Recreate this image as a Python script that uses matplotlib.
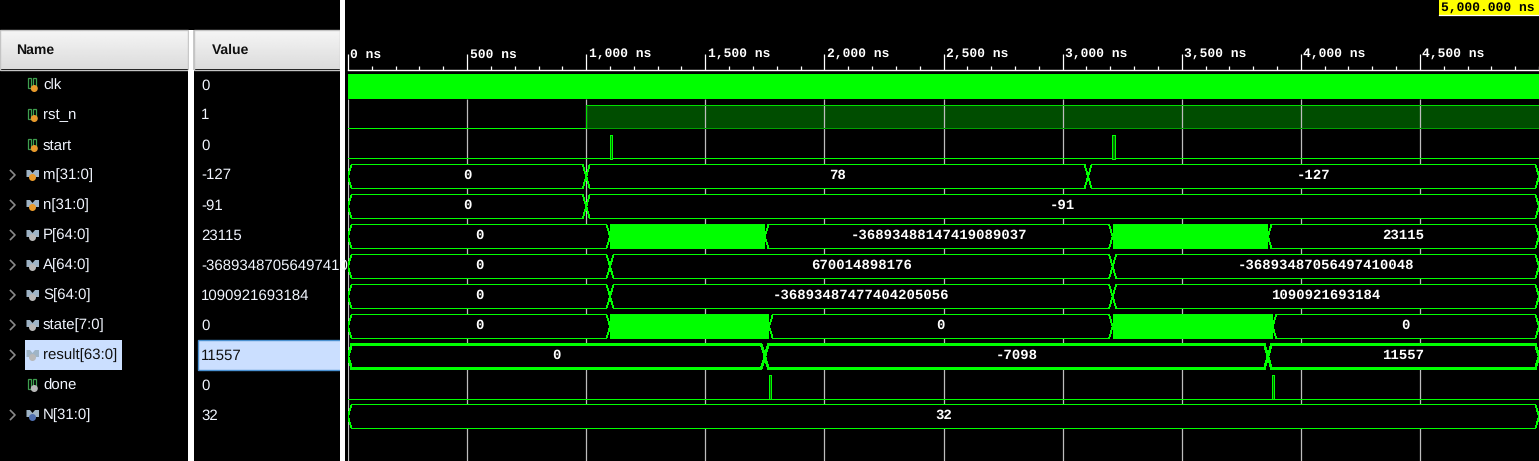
import numpy as np
import matplotlib
matplotlib.use("Agg")
import matplotlib.pyplot as plt
from matplotlib.patches import Rectangle, Circle, Polygon
from matplotlib.transforms import ScaledTranslation

plt.rcParams["text.hinting"] = "no_hinting"
plt.rcParams["text.hinting_factor"] = 1

# ---------- data ----------
names = ["clk", "rst_n", "start", "m[31:0]", "n[31:0]", "P[64:0]", "A[64:0]",
         "S[64:0]", "state[7:0]", "result[63:0]", "done", "N[31:0]"]
values = ["0", "1", "0", "-127", "-91", "23115", "-36893487056497410048",
          "1090921693184", "0", "11557", "0", "32"]
tick_ns = [0, 500, 1000, 1500, 2000, 2500, 3000, 3500, 4000, 4500]
tick_labels = ["0 ns", "500 ns", "1,000 ns", "1,500 ns", "2,000 ns", "2,500 ns",
               "3,000 ns", "3,500 ns", "4,000 ns", "4,500 ns"]
cursor_label = "5,000.000 ns"
end_ns = 5000

rst_rise = 1000
start_pulses = [1098, 3208]
done_pulses = [1766, 3878]
pulse_width = 10

m_edges = [0, 1000, 3107, 5000]
m_labels = ["0", "78", "-127"]
n_edges = [0, 1000, 5000]
n_labels = ["0", "-91"]
P_segments = [(0, 1100, "0"), (1750, 3210, "-36893488147419089037"), (3862, 5000, "23115")]
P_solid = [(1100, 1750), (3210, 3862)]
A_edges = [0, 1100, 3210, 5000]
A_labels = ["0", "670014898176", "-36893487056497410048"]
S_edges = [0, 1100, 3210, 5000]
S_labels = ["0", "-36893487477404205056", "1090921693184"]
state_segments = [(0, 1100, "0"), (1768, 3210, "0"), (3882, 5000, "0")]
state_solid = [(1100, 1768), (3210, 3882)]
result_edges = [0, 1750, 3862, 5000]
result_labels = ["0", "-7098", "11557"]
N_edges = [0, 5000]
N_labels = ["32"]

# ---------- style ----------
W, H = 1539, 461
GREEN = "#00ff00"
MONO = "Liberation Mono"
SANS = "Liberation Sans"
TXT = 10.6
LW = 0.5
fig = plt.figure(figsize=(W / 100, H / 100), dpi=100, facecolor="black")

# chrome axes in pixel coordinates
ui = fig.add_axes([0, 0, 1, 1])
ui.set_facecolor("black")
ui.axis("off")
grad = np.linspace(0.96, 0.86, 40).reshape(-1, 1)
for x0, x1 in [(0, 188), (194, 340)]:
    ui.imshow(grad, extent=(x0, x1, 69, 31), cmap="gray", vmin=0, vmax=1,
              aspect="auto", zorder=1)
    ui.add_patch(Rectangle((x0, 30), x1 - x0, 40, fill=False, ec="#c4c4c4", lw=1, zorder=2))
ui.set_xlim(0, W)
ui.set_ylim(H, 0)
ui.add_patch(Rectangle((188, 30), 6, H - 30, fc="white", ec="none", zorder=3))
ui.add_patch(Rectangle((188, 30), 1, 40, fc="#c8c8c8", ec="none", zorder=3))
ui.add_patch(Rectangle((193, 30), 1, 40, fc="#c8c8c8", ec="none", zorder=3))
ui.add_patch(Rectangle((340, 0), 5, H, fc="white", ec="none", zorder=3))
ui.text(16, 50.5, "Name", family=SANS, weight="bold", size=10.4, color="#101010", va="center", zorder=4)
ui.text(212, 50.5, "Value", family=SANS, weight="bold", size=10.4, color="#101010", va="center", zorder=4)


def scalar_icon(cy, col):
    ui.add_patch(Rectangle((28, cy - 6.5), 3, 10, fill=False, ec="#3f9f4f", lw=0.9, zorder=4))
    ui.add_patch(Rectangle((33, cy - 6.5), 3, 10, fill=False, ec="#3f9f4f", lw=0.9, zorder=4))
    ui.add_patch(Circle((34.3, cy + 3.5), 3.5, fc=col, ec="none", zorder=5))


def bus_icon(cy, col):
    ui.add_patch(Polygon([(26.5, cy - 5), (30, cy - 5), (32.5, cy - 2), (35, cy - 5),
                          (39, cy - 5), (39, cy + 2), (26.5, cy + 2)],
                         fc="#9fb4c6", ec="none", zorder=4))
    ui.add_patch(Circle((32.5, cy + 2.5), 3.5, fc=col, ec="none", zorder=5))


icon_cols = ["#e89a2c"] * 5 + ["#b8b8b8"] * 6 + ["#4f6fb0"]
selected = "result[63:0]"
for i, (nm, val) in enumerate(zip(names, values)):
    cy = 85 + 30 * i
    sel = nm == selected
    if sel:
        ui.add_patch(Rectangle((25, cy - 15), 97, 30, fc="#cbdfff", ec="none", zorder=2))
        ui.add_patch(Rectangle((197.5, cy - 15), 143, 30, fc="#cbdfff", ec="#4a90d0", lw=1, zorder=2))
    col = "#101010" if sel else "#f2f6ff"
    ui.text(43, cy + 0.5, nm, family=SANS, size=TXT, color=col, va="center", zorder=4)
    t = ui.text(201, cy + 0.5, val, family=SANS, size=TXT, color=col, va="center", zorder=4)
    t.set_clip_path(Rectangle((195, cy - 15), 145, 30, transform=ui.transData))
    if "[" in nm:
        bus_icon(cy, icon_cols[i])
        ui.plot([10.5, 15, 10.5], [cy - 4.5, cy, cy + 4.5], color="#8a8a8a", lw=1.2, zorder=4)
    else:
        scalar_icon(cy, icon_cols[i])

# waveform axes: x in ns
ax = fig.add_axes([348 / W, 0, (W - 348) / W, 1])
ax.set_facecolor("none")
ax.set_xlim(0, end_ns)
ax.set_ylim(H, 0)
ax.yaxis.set_visible(False)
for s in ["left", "right", "bottom"]:
    ax.spines[s].set_visible(False)
ax.spines["top"].set_position(("data", 70))
ax.spines["top"].set_color("white")
ax.spines["top"].set_linewidth(1.0)
ax.xaxis.set_ticks_position("top")
ax.set_xticks(tick_ns)
ax.set_xticklabels(tick_labels)
ax.set_xticks(np.arange(0, end_ns + 1, 100), minor=True)
ax.tick_params(axis="x", which="major", direction="out", length=11.5, width=0.9, color="white",
               pad=-9, labelsize=9.6, labelcolor="white")
ax.tick_params(axis="x", which="minor", direction="out", length=2.8, width=0.9, color="white")
off = ScaledTranslation(2.5 / 100, 6 / 100, fig.dpi_scale_trans)
for lab in ax.get_xticklabels():
    lab.set_family(MONO)
    lab.set_weight("bold")
    lab.set_ha("left")
    lab.set_transform(lab.get_transform() + off)

ax.vlines(tick_ns, 99, H, color="#bdbdbd", lw=0.9, zorder=1)

GRID_D = 15  # transition half-width in ns


def row_top(i):
    return 74 + 30 * i


def hexagon(t0, t1, top, lw):
    top = top + 0.5
    bot, mid = top + 24, top + 12
    d = GRID_D
    ax.add_patch(Polygon([(t0, mid), (t0 + d, top), (t1 - d, top), (t1, mid), (t1 - d, bot), (t0 + d, bot)],
                         closed=True, fc="black", ec=GREEN, lw=lw, zorder=2, joinstyle="miter",
                         antialiased=False))


def value_text(t0, t1, top, s):
    ax.text((t0 + t1) / 2, top + 11, s, family=MONO, weight="bold", size=9.8, color="white",
            ha="center", va="center", zorder=5)


def bus(i, edges, labels, lw=LW):
    for t0, t1, s in zip(edges[:-1], edges[1:], labels):
        hexagon(t0, t1, row_top(i), lw)
        value_text(t0, t1, row_top(i), s)


def bus_segments(i, segs, solids):
    for t0, t1, s in segs:
        hexagon(t0, t1, row_top(i), LW)
        value_text(t0, t1, row_top(i), s)
    for t0, t1 in solids:
        ax.add_patch(Rectangle((t0, row_top(i)), t1 - t0, 25, fc=GREEN, ec="none", zorder=3))


def pulses(i, ts):
    top, bot = row_top(i) + 0.5, row_top(i) + 24.5
    ax.hlines(bot, 0, end_ns, color=GREEN, lw=LW, zorder=2, antialiased=False)
    for t in ts:
        ax.add_patch(Rectangle((t, top), pulse_width, bot - top, fc="#007000", ec=GREEN, lw=LW,
                               zorder=3, antialiased=False))


# clk
ax.add_patch(Rectangle((0, row_top(0)), end_ns, 25, fc=GREEN, ec="none", zorder=3))
# rst_n
rt, rb = 105.5, 128.5
ax.add_patch(Rectangle((rst_rise, rt), end_ns - rst_rise, rb - rt, fc="#004d00", ec="none", zorder=0.5))
ax.hlines(rb, 0, rst_rise, color=GREEN, lw=LW, zorder=2, antialiased=False)
ax.hlines(rb, rst_rise, end_ns, color="#00a000", lw=LW, zorder=2, antialiased=False)
ax.plot([rst_rise, rst_rise, end_ns], [rb, rt, rt], color="#00e000", lw=LW, zorder=2, antialiased=False)
# start
pulses(2, start_pulses)
# buses
bus(3, m_edges, m_labels)
bus(4, n_edges, n_labels)
bus_segments(5, P_segments, P_solid)
bus(6, A_edges, A_labels)
bus(7, S_edges, S_labels)
bus_segments(8, state_segments, state_solid)
bus(9, result_edges, result_labels, lw=1.1)
pulses(10, done_pulses)
bus(11, N_edges, N_labels)

# cursor flag
ui.add_patch(Rectangle((1439, 0), 100, 15.5, fc="#ffff00", ec="none", zorder=6))
ui.plot([1439, 1539], [15.5, 15.5], color="white", lw=0.9, zorder=6)
ui.text(1441, 8.5, cursor_label, family=MONO, weight="bold", size=9.6, color="black", va="center", zorder=7)

fig.savefig("out.png", dpi=100, facecolor="black")
